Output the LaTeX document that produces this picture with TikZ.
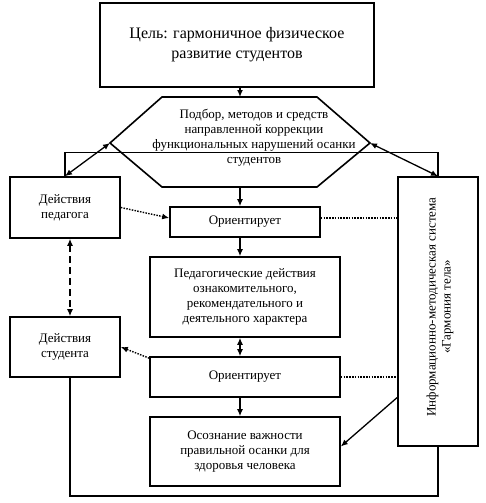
\documentclass[tikz,border=0pt]{standalone}
\usepackage{fontspec}
\setmainfont{Liberation Serif}
\usetikzlibrary{arrows.meta}

\begin{document}
\begin{tikzpicture}[x=1pt,y=-1pt,
  box/.style={draw,line width=1.6pt,align=center,inner sep=2pt,font=\fontsize{13}{15}\selectfont},
  arr/.style={line width=1.3pt,-{Latex[length=7pt,width=6pt]}},
  darr/.style={line width=1.3pt,{Latex[length=7pt,width=6pt]}-{Latex[length=7pt,width=6pt]}},
  dots/.style={line width=1.4pt,dash pattern=on 1.5pt off 1.3pt}]
\useasboundingbox (0,0) rectangle (485,503);
\node [box,minimum width=274pt,minimum height=84pt,font=\fontsize{16}{20}\selectfont] (goal) at (237,45) {Цель: гармоничное физическое\\развитие студентов};
\coordinate (hexN) at (240,97);
\coordinate (hexS) at (240,187);
\coordinate (hexW) at (110,143);
\coordinate (hexE) at (370,143);
\draw [line width=1.6pt] (162,97) -- (317,97) -- (hexE) -- (317,187) -- (162,187) -- (hexW) -- cycle;
\node [align=center,font=\fontsize{13}{15}\selectfont] (sel) at (254,138) {Подбор, методов и средств\\направленной коррекции\\функциональных нарушений осанки\\студентов};
\node [box,minimum width=110pt,minimum height=61pt] (ped) at (65,207.5) {Действия\\педагога};
\node [box,minimum width=150pt,minimum height=30pt] (ori1) at (245,222) {Ориентирует};
\node [box,minimum width=190pt,minimum height=80pt] (pedact) at (245,297) {Педагогические действия\\ознакомительного,\\рекомендательного и\\деятельного характера};
\node [box,minimum width=190pt,minimum height=40pt] (ori2) at (245,377) {Ориентирует};
\node [box,minimum width=190pt,minimum height=69pt] (aware) at (245,451.5) {Осознание важности\\правильной осанки для\\здоровья человека};
\node [box,minimum width=110pt,minimum height=60pt] (stud) at (65,347) {Действия\\студента};
\node [box,minimum width=80pt,minimum height=269pt] (info) at (438,311.5) {};
\node [rotate=90,align=center,font=\fontsize{13}{15}\selectfont] (infotext) at (440,307) {Информационно-методическая система\\«Гармония тела»};
\coordinate (loopL) at (70,496);
\coordinate (loopR) at (438,496);
\draw [arr] (goal.south -| hexN) -- (hexN);
\draw [line width=1.3pt] (ped.north) -- ++(0,-24) -| (info.north);
\draw [darr] (hexW) -- (ped.north);
\draw [darr] (hexE) -- (info.north);
\draw [arr] (hexS) -- (hexS |- ori1.north);
\draw [arr] (ori1.south -| hexS) -- (pedact.north -| hexS);
\draw [darr] (pedact.south -| hexS) -- (ori2.north -| hexS);
\draw [arr] (ori2.south -| hexS) -- (aware.north -| hexS);
\draw [arr,dots] (ped.east) -- ([yshift=4pt]ori1.west);
\draw [dots] ([yshift=4pt]ori1.east) -- ([yshift=4pt]ori1.east -| info.west);
\draw [arr,dots] ([yshift=-2pt]ori2.north west) -- (stud.east);
\draw [dots] (ori2.east) -- (ori2.east -| info.west);
\draw [arr] ([yshift=-86pt]info.west) -- ([yshift=5pt]aware.east);
\draw [darr,dash pattern=on 7pt off 4pt] (ped.south -| loopL) -- (stud.north -| loopL);
\draw [line width=1.3pt] (stud.south -| loopL) -- (loopL) -- (loopR) -- (info.south);
\end{tikzpicture}
\end{document}
